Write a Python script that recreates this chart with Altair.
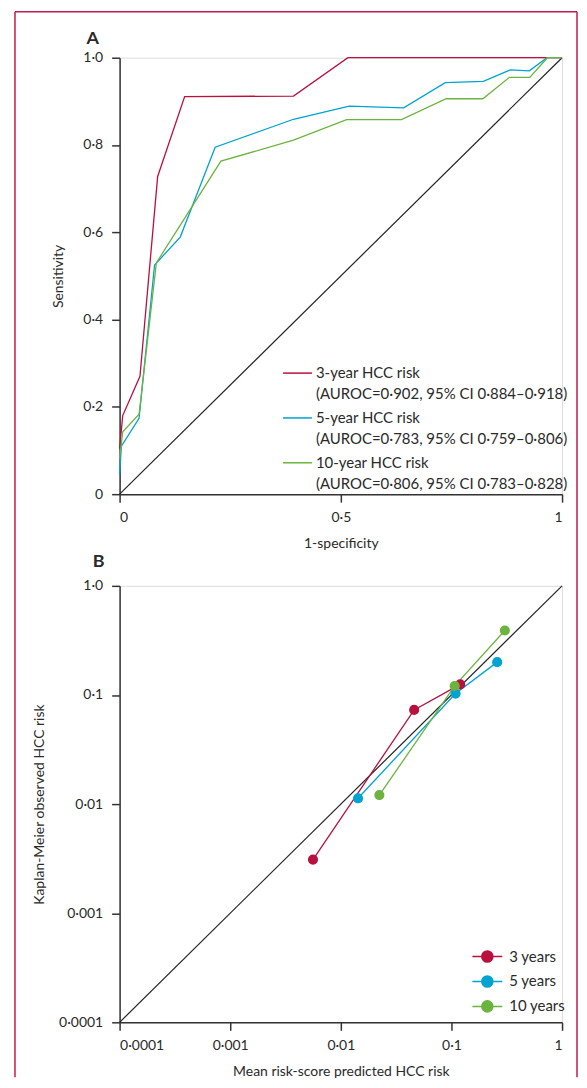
import altair as alt
import pandas as pd

FONT = "Lato"
TXT = "#2a2a2a"
AX = "#333333"
FRAME = "#C21A4C"

# ---------------- Panel A data (ROC curves) ----------------
series_A = ["3-year HCC risk", "5-year HCC risk", "10-year HCC risk"]
auroc_A = [
    "(AUROC=0·902, 95% CI 0·884–0·918)",
    "(AUROC=0·783, 95% CI 0·759–0·806)",
    "(AUROC=0·806, 95% CI 0·783–0·828)",
]
colors = ["#B8103F", "#00A3D1", "#6DB33F"]

red_fpr = [0, 0.007, 0.046, 0.086, 0.147, 0.393, 0.516, 1.0]
red_tpr = [0.104, 0.18, 0.27, 0.728, 0.911, 0.912, 1.0, 1.0]

blue_fpr = [0, 0.004, 0.044, 0.079, 0.137, 0.216, 0.393, 0.519, 0.642, 0.736, 0.822, 0.883, 0.926, 0.966, 1.0]
blue_tpr = [0.044, 0.11, 0.174, 0.525, 0.589, 0.795, 0.859, 0.889, 0.885, 0.943, 0.946, 0.972, 0.970, 1.0, 1.0]

green_fpr = [0, 0.007, 0.044, 0.083, 0.229, 0.393, 0.513, 0.637, 0.738, 0.821, 0.881, 0.927, 0.967, 1.0]
green_tpr = [0.081, 0.143, 0.183, 0.53, 0.763, 0.811, 0.858, 0.858, 0.906, 0.906, 0.955, 0.955, 1.0, 1.0]

ref_A = [0, 1]

# ---------------- Panel B data (calibration) ----------------
series_B = ["3 years", "5 years", "10 years"]
red_pred = [0.0056, 0.046, 0.120]
red_obs = [0.0031, 0.073, 0.125]
blue_pred = [0.0143, 0.109, 0.259]
blue_obs = [0.0113, 0.103, 0.200]
green_pred = [0.0223, 0.107, 0.304]
green_obs = [0.0121, 0.121, 0.390]
ref_B = [0.0001, 1]
decades = [0.0001, 0.001, 0.01, 0.1, 1]

panel_letters = ["A", "B"]


def build(names, xs, ys, xn, yn):
    rows = []
    for name, xv, yv in zip(names, xs, ys):
        for i, (a, b) in enumerate(zip(xv, yv)):
            rows.append({"series": name, xn: a, yn: b, "order": i})
    return pd.DataFrame(rows)


dfA = build(series_A, [red_fpr, blue_fpr, green_fpr], [red_tpr, blue_tpr, green_tpr], "fpr", "tpr")
dfB = build(series_B, [red_pred, blue_pred, green_pred], [red_obs, blue_obs, green_obs], "pred", "obs")
refA = pd.DataFrame({"fpr": ref_A, "tpr": ref_A})
refB = pd.DataFrame({"pred": ref_B, "obs": ref_B})

W, H = 444, 438

axis_common = dict(
    domainColor=AX, domainWidth=1.5, tickColor=AX, tickWidth=1.5, tickSize=8,
    labelFont=FONT, labelFontSize=14, labelColor=TXT,
    titleFont=FONT, titleFontSize=14, titleColor=TXT, titleFontWeight="normal",
    grid=False,
)

# ---- Panel A ----
label_map = " : ".join(
    f"datum.label == '{n}' ? ['{n}', '{a}']" for n, a in zip(series_A, auroc_A)
) + " : datum.label"

xA = alt.X("fpr:Q", scale=alt.Scale(domain=[0, 1], nice=False),
           axis=alt.Axis(title="1-specificity", values=[0, 0.5, 1],
                         labelExpr="replace(format(datum.value, '~g'), '.', '·')",
                         labelPadding=8, titlePadding=13, **axis_common))
yA = alt.Y("tpr:Q", scale=alt.Scale(domain=[0, 1], nice=False),
           axis=alt.Axis(title="Sensitivity", values=[0, 0.2, 0.4, 0.6, 0.8, 1.0],
                         labelExpr="datum.value == 0 ? '0' : replace(format(datum.value, '.1f'), '.', '·')",
                         labelPadding=9, titlePadding=17, **axis_common))

diagA = alt.Chart(refA).mark_line(color="#222222", strokeWidth=1.2).encode(x=xA, y=yA)

curvesA = alt.Chart(dfA).mark_line(strokeWidth=1.3).encode(
    x="fpr:Q", y="tpr:Q",
    order="order:Q",
    color=alt.Color("series:N", sort=series_A,
                    scale=alt.Scale(domain=series_A, range=colors),
                    legend=alt.Legend(
                        title=None, orient="none", legendX=163, legendY=301,
                        symbolType="stroke", symbolSize=841, symbolStrokeWidth=1.5,
                        labelFont=FONT, labelFontSize=15, labelColor=TXT, labelOffset=3,
                        labelLimit=400, rowPadding=0, padding=0,
                        labelExpr=label_map,
                    )),
)

one = pd.DataFrame({"k": [0]})
frame_top = alt.Chart(one).mark_rule(color=FRAME, strokeWidth=1.5).encode(
    x=alt.value(-105), x2=alt.value(459), y=alt.value(-46))
frame_left = alt.Chart(one).mark_rule(color=FRAME, strokeWidth=1.5).encode(
    x=alt.value(-105), y=alt.value(-46), y2=alt.value(1023))
frame_right = alt.Chart(one).mark_rule(color=FRAME, strokeWidth=1.5).encode(
    x=alt.value(459), y=alt.value(-46), y2=alt.value(1023))

letterA = alt.Chart(pd.DataFrame({"t": [panel_letters[0]]})).mark_text(
    font=FONT, fontSize=18, fontWeight="bold", color=TXT, align="center", baseline="alphabetic"
).encode(text="t:N", x=alt.value(-27), y=alt.value(-14))

panelA = alt.layer(frame_top, frame_left, frame_right, diagA, curvesA, letterA).properties(
    width=W, height=H,
)

# ---- Panel B ----
xB = alt.X("pred:Q", scale=alt.Scale(type="log", domain=[0.0001, 1], nice=False),
           axis=alt.Axis(title="Mean risk-score predicted HCC risk", values=decades,
                         labelExpr="replace(format(datum.value, '~g'), '.', '·')",
                         labelPadding=8, titlePadding=12, **axis_common))
yB = alt.Y("obs:Q", scale=alt.Scale(type="log", domain=[0.0001, 1], nice=False),
           axis=alt.Axis(title="Kaplan-Meier observed HCC risk", values=decades,
                         labelExpr="datum.value >= 1 ? '1·0' : replace(format(datum.value, '~g'), '.', '·')",
                         labelPadding=9, titlePadding=12, **axis_common))

diagB = alt.Chart(refB).mark_line(color="#222222", strokeWidth=1.2).encode(x=xB, y=yB)

lineLayers = [
    alt.Chart(dfB).transform_filter(alt.datum.series == s).mark_line(
        strokeWidth=1.3, color=c).encode(x="pred:Q", y="obs:Q", order="order:Q")
    for s, c in zip(series_B, colors)
]

legB = dict(
    title=None, orient="none", legendX=353, legendY=356,
    symbolType="M-1,0L1,0M-0.37,0A0.37,0.37,0,1,1,0.37,0A0.37,0.37,0,1,1,-0.37,0Z",
    symbolSize=900, symbolStrokeWidth=1.5,
    labelFont=FONT, labelFontSize=15, labelColor=TXT, labelOffset=6,
    rowPadding=0, padding=0,
)
pointsB = alt.Chart(dfB).mark_point(filled=True, size=75, opacity=1, strokeWidth=1.5).encode(
    x="pred:Q", y="obs:Q",
    fill=alt.Fill("series:N", sort=series_B, scale=alt.Scale(domain=series_B, range=colors),
                  legend=alt.Legend(**legB)),
    stroke=alt.Stroke("series:N", sort=series_B, scale=alt.Scale(domain=series_B, range=colors),
                      legend=alt.Legend(**legB)),
)

letterB = alt.Chart(pd.DataFrame({"t": [panel_letters[1]]})).mark_text(
    font=FONT, fontSize=18, fontWeight="bold", color=TXT, align="center", baseline="alphabetic"
).encode(text="t:N", x=alt.value(-21), y=alt.value(-19))

panelB = alt.layer(diagB, *lineLayers, pointsB, letterB).properties(width=W, height=H)

chart = alt.vconcat(panelA, panelB, spacing=92, bounds="flush").resolve_scale(
    color="independent", fill="independent", stroke="independent"
).properties(
    padding={"left": 5, "top": 0, "right": 0, "bottom": 0}
).configure_view(stroke=None).configure(
    font=FONT, background="white", style={"guide-label": {"lineHeight": 21}}
)

chart.save("out.html", embed_options={"renderer": "svg", "actions": False})
